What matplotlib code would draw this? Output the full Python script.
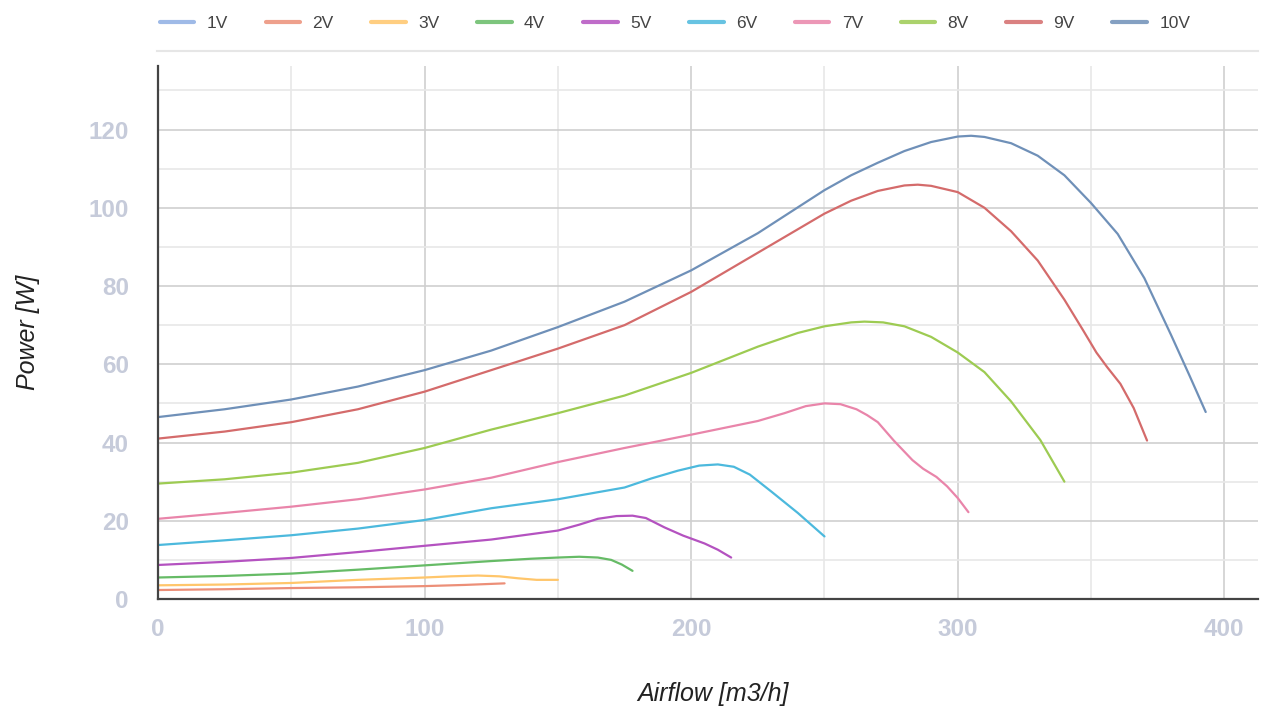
import matplotlib
matplotlib.use("Agg")
import matplotlib.pyplot as plt
from matplotlib.ticker import MultipleLocator

plt.rcParams['font.family'] = ['Liberation Sans', 'DejaVu Sans']

labels = ["1V", "2V", "3V", "4V", "5V", "6V", "7V", "8V", "9V", "10V"]
colors = ["#8eaee3", "#ec8f78", "#ffc66b", "#66bb66", "#b452c0", "#4cb9dd",
          "#e985aa", "#9dcb52", "#d46b6b", "#6f90b8"]

x1 = []
y1 = []
x2 = [0, 25, 50, 75, 100, 115, 130]
y2 = [2.3, 2.5, 2.8, 3.0, 3.3, 3.6, 4.0]
x3 = [0, 25, 50, 75, 100, 110, 120, 128, 135, 142, 150]
y3 = [3.5, 3.7, 4.1, 4.9, 5.5, 5.8, 6.0, 5.8, 5.3, 4.9, 4.9]
x4 = [0, 25, 50, 75, 100, 125, 140, 150, 158, 165, 170, 174, 178]
y4 = [5.5, 5.9, 6.5, 7.5, 8.6, 9.7, 10.3, 10.6, 10.8, 10.6, 10.0, 8.8, 7.2]
x5 = [0, 25, 50, 75, 100, 125, 150, 158, 165, 172, 178, 183, 190, 197, 205, 210, 215]
y5 = [8.7, 9.5, 10.5, 12.0, 13.6, 15.2, 17.5, 19.0, 20.5, 21.2, 21.3, 20.7, 18.3, 16.2, 14.2, 12.6, 10.6]
x6 = [0, 25, 50, 75, 100, 125, 150, 175, 185, 195, 203, 210, 216, 222, 230, 240, 250]
y6 = [13.8, 15.0, 16.3, 18.0, 20.2, 23.2, 25.5, 28.5, 30.8, 32.8, 34.1, 34.4, 33.8, 31.8, 27.5, 22.0, 16.0]
x7 = [0, 25, 50, 75, 100, 125, 150, 175, 200, 225, 235, 243, 250, 256, 262, 266, 270, 276, 283, 287, 292, 296, 300, 304]
y7 = [20.5, 22.0, 23.6, 25.5, 28.0, 31.0, 35.0, 38.6, 42.0, 45.5, 47.5, 49.3, 50.0, 49.8, 48.5, 47.0, 45.2, 40.5, 35.5, 33.3, 31.2, 28.8, 25.8, 22.2]
x8 = [0, 25, 50, 75, 100, 125, 150, 175, 200, 225, 240, 250, 260, 265, 272, 280, 290, 300, 310, 320, 331, 340]
y8 = [29.5, 30.6, 32.3, 34.8, 38.6, 43.3, 47.5, 52.0, 57.8, 64.5, 68.0, 69.7, 70.7, 70.9, 70.7, 69.7, 67.0, 63.0, 58.0, 50.5, 40.6, 30.0]
x9 = [0, 25, 50, 75, 100, 125, 150, 175, 200, 225, 250, 260, 270, 280, 285, 290, 300, 310, 320, 330, 340, 347, 352, 356, 361, 366, 371]
y9 = [41.0, 42.8, 45.2, 48.5, 53.0, 58.5, 64.0, 70.0, 78.5, 88.5, 98.5, 101.8, 104.3, 105.7, 105.9, 105.6, 104.0, 100.0, 94.0, 86.5, 76.5, 68.7, 63.0, 59.3, 55.0, 48.8, 40.5]
x10 = [0, 25, 50, 75, 100, 125, 150, 175, 200, 225, 250, 260, 270, 280, 290, 300, 305, 310, 320, 330, 340, 350, 360, 370, 380, 387, 393]
y10 = [46.5, 48.5, 51.0, 54.3, 58.5, 63.5, 69.5, 76.0, 84.0, 93.5, 104.5, 108.3, 111.5, 114.5, 116.8, 118.2, 118.4, 118.1, 116.5, 113.3, 108.3, 101.2, 93.3, 82.0, 67.5, 57.0, 47.8]

xs = [x1, x2, x3, x4, x5, x6, x7, x8, x9, x10]
ys = [y1, y2, y3, y4, y5, y6, y7, y8, y9, y10]

fig = plt.figure(figsize=(12.64, 7.11), dpi=100)
ax = fig.add_axes([0.125, 0.1575, 0.87, 0.7495])

for xv, yv, c, lab in zip(xs, ys, colors, labels):
    ax.plot(xv, yv, color=c, lw=1.6, label=lab, solid_capstyle='round',
            solid_joinstyle='round')

ax.set_xlim(0, 412.5)
ax.set_ylim(0, 136.2)
ax.xaxis.set_major_locator(MultipleLocator(100))
ax.xaxis.set_minor_locator(MultipleLocator(50))
ax.yaxis.set_major_locator(MultipleLocator(20))
ax.yaxis.set_minor_locator(MultipleLocator(10))
ax.grid(which='major', color='#cfcfcf', lw=1.2)
ax.grid(which='minor', color='#e8e8e8', lw=1.2)
ax.set_axisbelow(True)
for s in ['top', 'right']:
    ax.spines[s].set_visible(False)
for s in ['left', 'bottom']:
    ax.spines[s].set_color('#444444')
    ax.spines[s].set_linewidth(1.6)
ax.tick_params(which='both', length=0, colors='#c6cbda', labelsize=17.5)
ax.tick_params(axis='x', pad=14)
ax.tick_params(axis='y', pad=21)
for t in ax.get_xticklabels() + ax.get_yticklabels():
    t.set_fontweight('bold')

ax.set_xlabel("Airflow [m3/h]", fontsize=18, style='italic', color='#222222')
ax.set_ylabel("Power [W]", fontsize=18, style='italic', color='#222222')
ax.xaxis.set_label_coords(0.505, -0.155)
ax.yaxis.set_label_coords(-0.107, 0.5)

handles = ax.get_lines()
leg = fig.legend(handles, labels, loc='upper left', bbox_to_anchor=(0.114, 1.0),
                 ncol=10, frameon=False, fontsize=12.5, handlelength=2.0,
                 handletextpad=0.7, columnspacing=2.17, labelcolor='#444444')
for h in leg.legend_handles:
    h.set_linewidth(3)
    h.set_alpha(0.85)

fig.add_artist(plt.Line2D([0.124, 0.995], [0.928, 0.928], color='#e6e6e6', lw=1.5,
                          transform=fig.transFigure))

fig.savefig("out.png", dpi=100)
